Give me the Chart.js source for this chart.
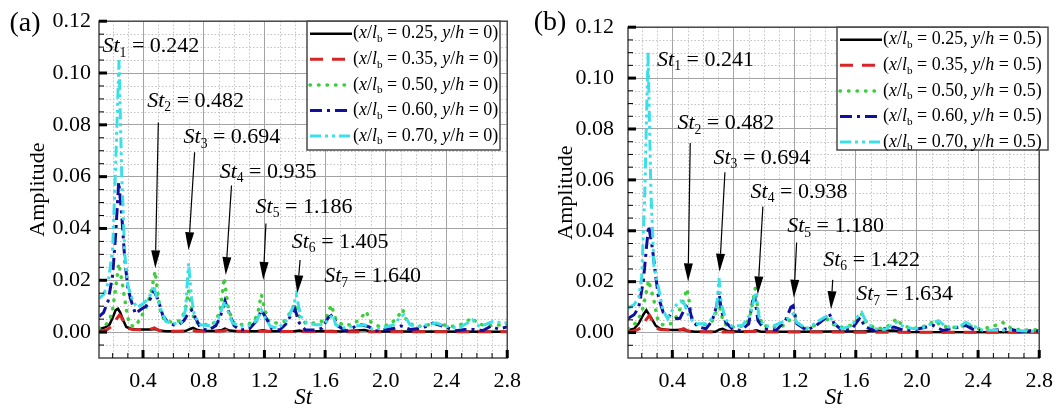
<!DOCTYPE html>
<html>
<head>
<meta charset="utf-8">
<script src="https://cdn.jsdelivr.net/npm/chart.js@4.4.0/dist/chart.umd.min.js"></script>
<style>
html, body { margin: 0; padding: 0; background: #fff; }
#wrap { position: relative; width: 1063px; height: 409px; }
canvas { position: absolute; top: 0; }
</style>
</head>
<body>
<div id="wrap">
  <canvas id="ca" width="531" height="409" style="left:0px"></canvas>
  <canvas id="cb" width="532" height="409" style="left:531px"></canvas>
</div>
<script>
const SERIF = "'Liberation Serif', 'Times New Roman', serif";

// ---- data: [St, amplitude] ----
const xTickVals = [0.4, 0.8, 1.2, 1.6, 2.0, 2.4, 2.8];
const yTickVals = [0, 0.02, 0.04, 0.06, 0.08, 0.10, 0.12];
const xPositions = ['0.25', '0.35', '0.50', '0.60', '0.70'];

// panel (a), y/h = 0
const aLine025 = [[0.11,0.0012],[0.15,0.0018],[0.18,0.003],[0.20,0.0055],[0.22,0.0085],[0.235,0.009],[0.25,0.0075],[0.27,0.0045],[0.29,0.002],[0.32,0.0013],[0.36,0.001],[0.40,0.001],[0.45,0.001],[0.48,0.0012],[0.51,0.0006],[0.55,0.0003],[0.62,0.0003],[0.68,0.0004],[0.71,0.0012],[0.73,0.0016],[0.76,0.0008],[0.80,0.0004],[0.88,0.0004],[0.92,0.0008],[0.94,0.0013],[0.97,0.0006],[1.02,0.0003],[1.15,0.0003],[1.19,0.0007],[1.22,0.0003],[1.40,0.0003],[1.43,0.0006],[1.46,0.0002],[1.64,0.0004],[1.70,0.0002],[1.86,0.0008],[1.90,0.0002],[2.10,0.0002],[2.80,0.0001]];
const aLine035 = [[0.11,0.0003],[0.16,0.0008],[0.20,0.0025],[0.225,0.005],[0.245,0.0066],[0.26,0.0055],[0.28,0.003],[0.30,0.0015],[0.33,0.001],[0.40,0.0009],[0.45,0.0011],[0.475,0.0016],[0.50,0.0008],[0.53,0.0003],[0.70,0.0003],[0.72,0.0008],[0.75,0.0003],[0.93,0.0004],[0.95,0.0008],[0.98,0.0003],[1.20,0.0003],[1.40,0.0002],[2.80,0.0001]];
const aLine050 = [[0.11,0.0015],[0.15,0.0025],[0.18,0.0045],[0.20,0.009],[0.22,0.017],[0.24,0.0265],[0.26,0.02],[0.28,0.0125],[0.30,0.0055],[0.32,0.0025],[0.35,0.0022],[0.38,0.005],[0.42,0.0095],[0.45,0.0145],[0.48,0.0235],[0.50,0.0135],[0.52,0.0065],[0.55,0.0042],[0.60,0.0038],[0.65,0.0045],[0.68,0.009],[0.70,0.016],[0.72,0.0095],[0.74,0.004],[0.78,0.003],[0.84,0.0028],[0.88,0.004],[0.91,0.009],[0.935,0.021],[0.96,0.01],[0.99,0.004],[1.03,0.003],[1.09,0.0028],[1.14,0.005],[1.16,0.0085],[1.18,0.0145],[1.20,0.009],[1.23,0.004],[1.28,0.0035],[1.33,0.0042],[1.37,0.0075],[1.40,0.011],[1.43,0.006],[1.47,0.0035],[1.53,0.0035],[1.60,0.0045],[1.64,0.0105],[1.67,0.005],[1.72,0.0025],[1.78,0.003],[1.83,0.005],[1.87,0.008],[1.90,0.004],[1.96,0.002],[2.03,0.003],[2.08,0.006],[2.11,0.0088],[2.14,0.004],[2.20,0.002],[2.30,0.003],[2.35,0.0035],[2.42,0.002],[2.50,0.003],[2.57,0.0055],[2.61,0.003],[2.70,0.0025],[2.80,0.003]];
const aLine060 = [[0.11,0.006],[0.14,0.0075],[0.17,0.012],[0.20,0.022],[0.22,0.038],[0.24,0.058],[0.26,0.045],[0.28,0.028],[0.30,0.017],[0.32,0.0125],[0.35,0.007],[0.38,0.0085],[0.42,0.01],[0.45,0.013],[0.47,0.016],[0.50,0.0125],[0.53,0.0065],[0.56,0.004],[0.60,0.0028],[0.64,0.003],[0.67,0.0045],[0.70,0.0075],[0.72,0.0085],[0.75,0.005],[0.78,0.0015],[0.83,0.0006],[0.88,0.0025],[0.91,0.006],[0.94,0.012],[0.97,0.007],[1.00,0.0025],[1.04,0.0008],[1.10,0.0012],[1.15,0.0045],[1.18,0.0085],[1.21,0.0055],[1.25,0.0012],[1.30,0.0008],[1.34,0.003],[1.37,0.006],[1.40,0.009],[1.43,0.0035],[1.47,0.0008],[1.53,0.0008],[1.58,0.0015],[1.62,0.0055],[1.65,0.0068],[1.68,0.0025],[1.74,0.0004],[1.80,0.0022],[1.84,0.0028],[1.89,0.002],[1.93,0.0004],[2.00,0.001],[2.06,0.0015],[2.10,0.0024],[2.16,0.001],[2.24,0.0015],[2.31,0.0035],[2.38,0.0022],[2.46,0.0005],[2.52,0.001],[2.58,0.001],[2.64,0.0006],[2.69,0.0022],[2.74,0.0012],[2.80,0.002]];
const aLine070 = [[0.11,0.013],[0.14,0.0145],[0.17,0.019],[0.20,0.032],[0.22,0.065],[0.242,0.105],[0.26,0.06],[0.28,0.03],[0.30,0.018],[0.33,0.0125],[0.36,0.0095],[0.39,0.0105],[0.42,0.012],[0.45,0.0145],[0.47,0.018],[0.49,0.0135],[0.52,0.0085],[0.55,0.0042],[0.60,0.0032],[0.65,0.0035],[0.68,0.0085],[0.70,0.0265],[0.72,0.013],[0.74,0.006],[0.78,0.0028],[0.84,0.0025],[0.89,0.0045],[0.92,0.009],[0.94,0.012],[0.96,0.008],[0.99,0.0035],[1.04,0.0022],[1.10,0.0025],[1.15,0.0045],[1.18,0.0085],[1.20,0.006],[1.24,0.0022],[1.29,0.0015],[1.35,0.0047],[1.39,0.0099],[1.41,0.0143],[1.44,0.006],[1.48,0.0035],[1.54,0.0028],[1.59,0.0028],[1.63,0.0054],[1.65,0.0067],[1.67,0.0028],[1.71,0.0015],[1.78,0.0022],[1.86,0.0028],[1.91,0.0012],[1.97,0.0015],[2.05,0.0028],[2.10,0.006],[2.12,0.0067],[2.16,0.0028],[2.22,0.0022],[2.33,0.0035],[2.40,0.0022],[2.48,0.0015],[2.57,0.0047],[2.62,0.002],[2.70,0.004],[2.80,0.0035]];

// panel (b), y/h = 0.5
const bLine025 = [[0.11,0.0009],[0.15,0.0015],[0.18,0.0035],[0.21,0.007],[0.23,0.0088],[0.26,0.006],[0.29,0.0028],[0.32,0.0015],[0.36,0.0011],[0.42,0.001],[0.47,0.0011],[0.50,0.0006],[0.55,0.0003],[0.68,0.0003],[0.71,0.0012],[0.73,0.0015],[0.76,0.0006],[0.85,0.0003],[0.93,0.0006],[0.95,0.0009],[0.98,0.0003],[1.20,0.0003],[1.45,0.0004],[1.64,0.0004],[1.85,0.0008],[1.90,0.0002],[2.80,0.0001]];
const bLine035 = [[0.11,0.0002],[0.16,0.0008],[0.20,0.002],[0.23,0.0052],[0.25,0.0067],[0.27,0.0045],[0.29,0.0018],[0.32,0.0012],[0.40,0.0009],[0.45,0.001],[0.474,0.0015],[0.50,0.0007],[0.53,0.0003],[0.80,0.0002],[0.95,0.0005],[1.00,0.0002],[2.80,0.0001]];
const bLine050 = [[0.11,0.0015],[0.15,0.003],[0.18,0.0055],[0.21,0.01],[0.23,0.016],[0.245,0.0205],[0.26,0.017],[0.28,0.0125],[0.30,0.006],[0.32,0.0035],[0.35,0.0028],[0.39,0.0035],[0.43,0.0065],[0.455,0.0099],[0.48,0.014],[0.496,0.0172],[0.51,0.0124],[0.53,0.0055],[0.56,0.003],[0.62,0.0032],[0.66,0.0045],[0.69,0.0086],[0.71,0.0099],[0.73,0.005],[0.76,0.0022],[0.82,0.0022],[0.88,0.0028],[0.91,0.007],[0.943,0.0175],[0.96,0.0085],[0.99,0.0028],[1.05,0.0022],[1.12,0.0025],[1.16,0.0045],[1.20,0.0067],[1.23,0.003],[1.28,0.0015],[1.34,0.003],[1.40,0.006],[1.44,0.0035],[1.50,0.002],[1.58,0.003],[1.64,0.0073],[1.67,0.004],[1.73,0.0015],[1.80,0.002],[1.87,0.0055],[1.90,0.003],[1.97,0.0015],[2.05,0.0025],[2.12,0.0047],[2.16,0.0025],[2.25,0.002],[2.33,0.003],[2.40,0.0015],[2.48,0.002],[2.56,0.004],[2.62,0.0015],[2.70,0.001],[2.80,0.0012]];
const bLine060 = [[0.11,0.0055],[0.15,0.007],[0.18,0.0099],[0.21,0.02],[0.23,0.033],[0.245,0.042],[0.27,0.033],[0.29,0.0227],[0.31,0.0137],[0.34,0.008],[0.376,0.0067],[0.41,0.0054],[0.45,0.0056],[0.485,0.0099],[0.506,0.0111],[0.53,0.0047],[0.57,0.0022],[0.62,0.0015],[0.66,0.0045],[0.69,0.0105],[0.705,0.0162],[0.72,0.0085],[0.75,0.004],[0.79,0.0015],[0.85,0.0008],[0.90,0.0035],[0.925,0.0124],[0.94,0.0137],[0.96,0.0047],[1.00,0.0015],[1.08,0.0009],[1.14,0.0047],[1.175,0.0099],[1.19,0.0105],[1.214,0.0035],[1.278,0.0009],[1.342,0.0028],[1.395,0.0054],[1.427,0.0073],[1.459,0.0035],[1.51,0.0009],[1.575,0.0015],[1.607,0.0041],[1.628,0.006],[1.66,0.0022],[1.72,0.0008],[1.788,0.0015],[1.85,0.0022],[1.915,0.0008],[1.98,0.0011],[2.064,0.0022],[2.107,0.0028],[2.17,0.0008],[2.277,0.0022],[2.32,0.0028],[2.38,0.0008],[2.49,0.0008],[2.60,0.0015],[2.68,0.0003],[2.75,0.0008],[2.80,0.0006]];
const bLine070 = [[0.11,0.0095],[0.15,0.011],[0.18,0.0137],[0.20,0.022],[0.22,0.055],[0.241,0.11],[0.26,0.055],[0.28,0.026],[0.31,0.0174],[0.34,0.0085],[0.37,0.0054],[0.41,0.0099],[0.454,0.0124],[0.48,0.0112],[0.51,0.006],[0.55,0.0035],[0.62,0.0035],[0.67,0.006],[0.69,0.0099],[0.705,0.0214],[0.72,0.0112],[0.75,0.005],[0.79,0.0025],[0.86,0.0028],[0.91,0.0073],[0.945,0.016],[0.97,0.005],[1.01,0.0025],[1.07,0.0028],[1.14,0.0047],[1.19,0.0073],[1.214,0.004],[1.278,0.0015],[1.342,0.004],[1.395,0.006],[1.427,0.0067],[1.459,0.0035],[1.51,0.0015],[1.575,0.0028],[1.617,0.0067],[1.638,0.0079],[1.67,0.004],[1.72,0.0015],[1.79,0.0012],[1.85,0.0035],[1.87,0.004],[1.915,0.0022],[1.98,0.0015],[2.06,0.0022],[2.107,0.004],[2.14,0.0047],[2.19,0.0022],[2.277,0.0022],[2.32,0.004],[2.36,0.0028],[2.43,0.0009],[2.53,0.0009],[2.65,0.0009],[2.72,0.0005],[2.80,0.0006]];

// peak labels: [index, value text, label St, label amp, arrow tail St, tail amp, tip St, tip amp]
const peaksA = [
  [1, '0.242', 0.133, 0.1103],
  [2, '0.482', 0.428, 0.0892, 0.501, 0.0809, 0.481, 0.0246],
  [3, '0.694', 0.667, 0.0751, 0.740, 0.0694, 0.700, 0.0316],
  [4, '0.935', 0.905, 0.0617, 0.983, 0.0566, 0.945, 0.0220],
  [5, '1.186', 1.142, 0.0482, 1.210, 0.0419, 1.192, 0.0201],
  [6, '1.405', 1.380, 0.0348, 1.435, 0.0278, 1.417, 0.0150],
  [7, '1.640', 1.594, 0.0214]
];
const peaksB = [
  [1, '0.241', 0.300, 0.1070],
  [2, '0.482', 0.433, 0.0822, 0.517, 0.0745, 0.503, 0.0201],
  [3, '0.694', 0.669, 0.0687, 0.744, 0.0630, 0.709, 0.0239],
  [4, '0.938', 0.912, 0.0553, 0.992, 0.0495, 0.959, 0.0150],
  [5, '1.180', 1.151, 0.0416, 1.213, 0.0354, 1.195, 0.0137],
  [6, '1.422', 1.387, 0.0284, 1.449, 0.0207, 1.438, 0.0092],
  [7, '1.634', 1.603, 0.0150]
];

// line styles, one per x/lb position
const styles = [
  { color: '#000000', dash: [], width: 2.5, cap: 'butt' },
  { color: '#d82424', dash: [13, 9], width: 3, cap: 'butt' },
  { color: '#3ccf3c', dash: [0.5, 8], width: 3.5, cap: 'round' },
  { color: '#10109e', dash: [12, 5, 3, 5], width: 3, cap: 'butt' },
  { color: '#3adfe8', dash: [11, 4, 3, 4, 3, 4], width: 3, cap: 'butt' }
];

function drawRich(ctx, segs, x, y, size) {
  ctx.textBaseline = 'middle';
  ctx.textAlign = 'left';
  ctx.fillStyle = '#000';
  for (const s of segs) {
    const fs = s.sub ? size * 0.62 : size;
    ctx.font = (s.it ? 'italic ' : '') + fs + 'px ' + SERIF;
    ctx.fillText(s.t, x, y + (s.sub ? size * 0.3 : 0));
    x += ctx.measureText(s.t).width;
  }
  return x;
}

function legendSegs(xv, yv) {
  return [{ t: '(' }, { t: 'x', it: 1 }, { t: '/' }, { t: 'l', it: 1 }, { t: 'b', sub: 1 },
    { t: ' = ' + xv + ', ' }, { t: 'y', it: 1 }, { t: '/' }, { t: 'h', it: 1 }, { t: ' = ' + yv + ')' }];
}

function drawArrow(ctx, x0, y0, x1, y1) {
  const ang = Math.atan2(y1 - y0, x1 - x0), L = 18, W = 4.5;
  const bx = x1 - L * Math.cos(ang), by = y1 - L * Math.sin(ang);
  ctx.strokeStyle = '#000'; ctx.fillStyle = '#000'; ctx.lineWidth = 1.2; ctx.setLineDash([]);
  ctx.beginPath(); ctx.moveTo(x0, y0); ctx.lineTo(bx, by); ctx.stroke();
  ctx.beginPath(); ctx.moveTo(x1, y1);
  ctx.lineTo(bx + W * Math.sin(ang), by - W * Math.cos(ang));
  ctx.lineTo(bx - W * Math.sin(ang), by + W * Math.cos(ang));
  ctx.closePath(); ctx.fill();
}

const decor = {
  id: 'decor',
  beforeDraw(chart) {
    const { ctx, chartArea: a, scales: { x, y } } = chart;
    ctx.save();
    ctx.fillStyle = '#fff';
    ctx.fillRect(0, 0, chart.width, chart.height);
    // minor grid, dotted
    ctx.strokeStyle = '#c2c2c2'; ctx.lineWidth = 1; ctx.setLineDash([1.5, 2]);
    for (let i = 2; i < 28; i++) {
      if (i % 4 === 0) continue;
      const px = Math.round(x.getPixelForValue(i / 10)) + 0.5;
      ctx.beginPath(); ctx.moveTo(px, a.top); ctx.lineTo(px, a.bottom); ctx.stroke();
    }
    for (let i = -1; i < 24; i++) {
      if (i % 4 === 0) continue;
      const py = Math.round(y.getPixelForValue(i * 0.005)) + 0.5;
      ctx.beginPath(); ctx.moveTo(a.left, py); ctx.lineTo(a.right, py); ctx.stroke();
    }
    ctx.restore();
  },
  afterDatasetsDraw(chart, args, o) {
    const { ctx, chartArea: a, scales: { x, y } } = chart;
    ctx.save();
    // frame
    ctx.strokeStyle = '#4a4a4a'; ctx.lineWidth = 1.5; ctx.setLineDash([]);
    ctx.strokeRect(a.left, a.top, a.right - a.left, a.bottom - a.top);
    // inward ticks
    ctx.strokeStyle = '#000';
    for (let i = -1; i <= 24; i++) {
      const major = i % 4 === 0, py = y.getPixelForValue(i * 0.005);
      ctx.lineWidth = major ? 3 : 1;
      ctx.beginPath(); ctx.moveTo(a.left, py); ctx.lineTo(a.left + (major ? 8 : 5), py); ctx.stroke();
    }
    for (let i = 2; i <= 28; i++) {
      const major = i % 4 === 0, px = x.getPixelForValue(i / 10);
      ctx.lineWidth = major ? 3 : 1;
      ctx.beginPath(); ctx.moveTo(px, a.bottom); ctx.lineTo(px, a.bottom - (major ? 8 : 5)); ctx.stroke();
    }
    // peak labels and arrows
    for (const p of o.peaks) {
      drawRich(ctx, [{ t: 'St', it: 1 }, { t: String(p[0]), sub: 1 }, { t: ' = ' + p[1] }],
        x.getPixelForValue(p[2]), y.getPixelForValue(p[3]), 22);
      if (p.length > 4) {
        drawArrow(ctx, x.getPixelForValue(p[4]), y.getPixelForValue(p[5]),
          x.getPixelForValue(p[6]), y.getPixelForValue(p[7]));
      }
    }
    // legend box
    const L = o.legend;
    ctx.fillStyle = '#fff';
    ctx.fillRect(L.left, a.top, L.right - L.left, L.bottom - a.top);
    ctx.strokeStyle = '#4a4a4a'; ctx.lineWidth = 1.5;
    ctx.strokeRect(L.left, a.top, L.right - L.left, L.bottom - a.top);
    chart.data.datasets.forEach((ds, i) => {
      const st = styles[i], ry = a.top + 12.5 + i * 25.6;
      ctx.strokeStyle = st.color; ctx.lineWidth = st.width; ctx.lineCap = st.cap;
      ctx.setLineDash(st.dash);
      ctx.beginPath(); ctx.moveTo(L.left + 3, ry); ctx.lineTo(L.left + 45, ry); ctx.stroke();
      ctx.lineCap = 'butt'; ctx.setLineDash([]);
      drawRich(ctx, legendSegs(xPositions[i], o.yh), L.left + 46, ry, 18);
    });
    // panel tag
    ctx.font = '28px ' + SERIF; ctx.fillStyle = '#000';
    ctx.textAlign = 'center'; ctx.textBaseline = 'middle';
    ctx.fillText(o.tag, o.tagX, o.tagY);
    ctx.restore();
  }
};

function makePanel(id, lines, cfg) {
  const datasets = lines.map((pts, i) => ({
    label: xPositions[i],
    data: pts.map(([sx, amp]) => ({ x: sx, y: amp })),
    borderColor: styles[i].color,
    borderWidth: styles[i].width,
    borderDash: styles[i].dash,
    borderCapStyle: styles[i].cap,
    pointRadius: 0,
    tension: 0,
    fill: false,
    order: 5 - i
  }));
  return new Chart(document.getElementById(id), {
    type: 'line',
    data: { datasets },
    options: {
      responsive: false,
      animation: false,
      layout: { padding: { left: cfg.padLeft, top: 20, right: cfg.padRight, bottom: 0 } },
      plugins: {
        legend: { display: false },
        tooltip: { enabled: false },
        decor: cfg.decor
      },
      scales: {
        x: {
          type: 'linear', min: 0.11, max: 2.8,
          afterBuildTicks: s => { s.ticks = xTickVals.map(v => ({ value: v })); },
          afterFit: s => { s.height = 51; },
          ticks: { callback: v => v.toFixed(1), color: '#000', padding: 10, maxRotation: 0, autoSkip: false,
            font: { family: SERIF, size: 22 } },
          grid: { color: '#a3a3a3', lineWidth: 1, drawTicks: false },
          border: { display: false },
          title: { display: true, text: 'St', color: '#000', padding: 0,
            font: { family: SERIF, size: 23, style: 'italic', lineHeight: 1.0 } }
        },
        y: {
          min: -0.01, max: 0.12,
          afterBuildTicks: s => { s.ticks = yTickVals.map(v => ({ value: v })); },
          afterFit: s => { s.width = cfg.yWidth; },
          ticks: { callback: v => v.toFixed(2), color: '#000', padding: cfg.yPad,
            font: { family: SERIF, size: 22 } },
          grid: { color: '#a3a3a3', lineWidth: 1, drawTicks: false },
          border: { display: false },
          title: { display: true, text: 'Amplitude', color: '#000', padding: 0,
            font: { family: SERIF, size: 22 } }
        }
      }
    },
    plugins: [decor]
  });
}

makePanel('ca', [aLine025, aLine035, aLine050, aLine060, aLine070], {
  padLeft: 25, yWidth: 74, yPad: 8, padRight: 12,
  decor: { peaks: peaksA, yh: '0', legend: { left: 307, right: 500, bottom: 150 }, tag: '(a)', tagX: 25, tagY: 24 }
});
makePanel('cb', [bLine025, bLine035, bLine050, bLine060, bLine070], {
  padLeft: 22, yWidth: 75, yPad: 14, padRight: 14,
  decor: { peaks: peaksB, yh: '0.5', legend: { left: 306, right: 517, bottom: 150 }, tag: '(b)', tagX: 19, tagY: 23 }
});
</script>
</body>
</html>
